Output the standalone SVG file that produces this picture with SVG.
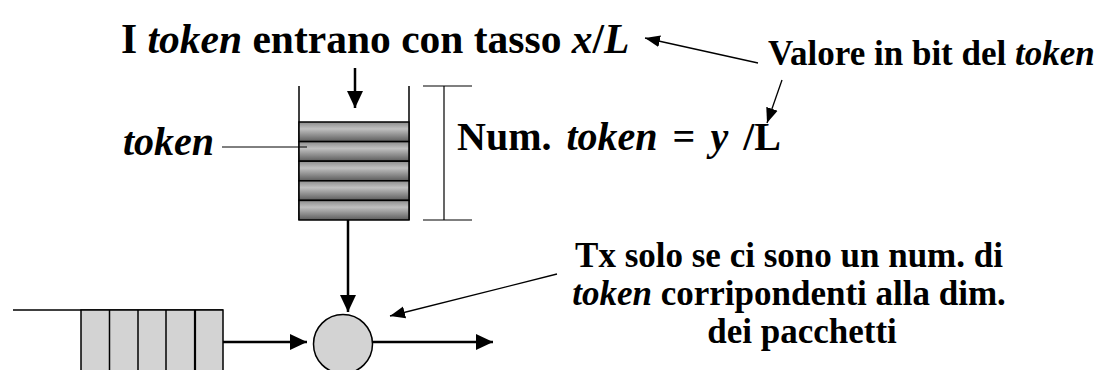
<svg xmlns="http://www.w3.org/2000/svg" width="1105" height="370" viewBox="0 0 1105 370">
<style>
text{font-family:"Liberation Serif","DejaVu Serif",serif;font-weight:bold;fill:#000}
.i{font-style:italic}
.ln{stroke:#000;fill:none}
.thick{stroke-width:2.5}
.thin{stroke-width:1.3}
.box{fill:#d3d3d3;stroke:#000;stroke-width:1.5}
.bar{fill:url(#bar);stroke:#000;stroke-width:1.5}
</style>
<defs>
<linearGradient id="bar" x1="0" y1="0" x2="0" y2="1">
<stop offset="0" stop-color="#8c8c8c"/>
<stop offset="0.35" stop-color="#c0c0c0"/>
<stop offset="1" stop-color="#5c5c5c"/>
</linearGradient>
<marker id="ah" markerUnits="userSpaceOnUse" markerWidth="18" markerHeight="18" viewBox="0 0 18 18" refX="17" refY="9" orient="auto">
<path d="M0,1 L17,9 L0,17 Z" fill="#000"/>
</marker>
<marker id="ah2" markerUnits="userSpaceOnUse" markerWidth="16" markerHeight="14" viewBox="0 0 16 14" refX="15" refY="7" orient="auto">
<path d="M0,1 L15,7 L0,13 Z" fill="#000"/>
</marker>
</defs>

<g id="title">
<text x="121" y="53" font-size="41.5">I <tspan class="i">token</tspan> entrano con tasso <tspan class="i">x</tspan>/<tspan class="i">L</tspan></text>
</g>

<g id="bucket">
<line class="ln" x1="299" y1="86" x2="299" y2="220" stroke-width="1.5"/>
<line class="ln" x1="409" y1="86" x2="409" y2="220" stroke-width="1.5"/>
<rect class="bar" x="299" y="122" width="110" height="19.6"/>
<rect class="bar" x="299" y="141.6" width="110" height="19.6"/>
<rect class="bar" x="299" y="161.2" width="110" height="19.6"/>
<rect class="bar" x="299" y="180.8" width="110" height="19.6"/>
<rect class="bar" x="299" y="200.4" width="110" height="19.6"/>
</g>

<g id="token-label">
<text class="i" x="123" y="155" font-size="40">token</text>
</g>

<g id="bracket">
<line class="ln" x1="423" y1="86" x2="472" y2="86" stroke-width="1.2"/>
<line class="ln" x1="444" y1="86" x2="444" y2="220" stroke-width="1.2"/>
<line class="ln" x1="423" y1="220" x2="472" y2="220" stroke-width="1.2"/>
</g>

<g id="num-token">
<text x="457" y="150" font-size="40" word-spacing="5">Num. <tspan class="i">token</tspan> = <tspan class="i">y</tspan> /L</text>
</g>

<g id="valore">
<text x="768" y="65" font-size="35">Valore in bit del <tspan class="i">token</tspan></text>
</g>

<g id="tx-note">
<text x="789" y="267" font-size="35" text-anchor="middle">Tx solo se ci sono un num. di</text>
<text x="789" y="305" font-size="35" text-anchor="middle"><tspan class="i">token</tspan> corripondenti alla dim.</text>
<text x="802" y="343" font-size="35" text-anchor="middle">dei pacchetti</text>
</g>

<g id="queue">
<line class="ln" x1="13" y1="310" x2="223" y2="310" stroke-width="1.3"/>
<rect class="box" x="81" y="310" width="142" height="70"/>
<line class="ln" x1="109.5" y1="310" x2="109.5" y2="370" stroke-width="1.5"/>
<line class="ln" x1="138" y1="310" x2="138" y2="370" stroke-width="1.5"/>
<line class="ln" x1="166" y1="310" x2="166" y2="370" stroke-width="1.5"/>
<line class="ln" x1="195" y1="310" x2="195" y2="370" stroke-width="2.2"/>
</g>

<g id="server">
<circle cx="343" cy="344" r="29.5" class="box"/>
</g>

<g id="connectors">
<line class="ln thick" x1="355" y1="68" x2="355" y2="108" marker-end="url(#ah)"/>
<line class="ln" x1="222" y1="147" x2="307" y2="147" stroke-width="1"/>
<line class="ln thick" x1="348" y1="220" x2="348" y2="312" marker-end="url(#ah)"/>
<line class="ln thick" x1="223" y1="342" x2="307" y2="342" marker-end="url(#ah)"/>
<line class="ln thick" x1="373" y1="342" x2="493" y2="342" marker-end="url(#ah)"/>
<line class="ln thin" x1="557" y1="274" x2="390" y2="316" marker-end="url(#ah2)"/>
<line class="ln thin" x1="758" y1="63" x2="645" y2="38" marker-end="url(#ah2)"/>
<line class="ln thin" x1="782" y1="80" x2="767" y2="123" marker-end="url(#ah2)"/>
</g>
</svg>
